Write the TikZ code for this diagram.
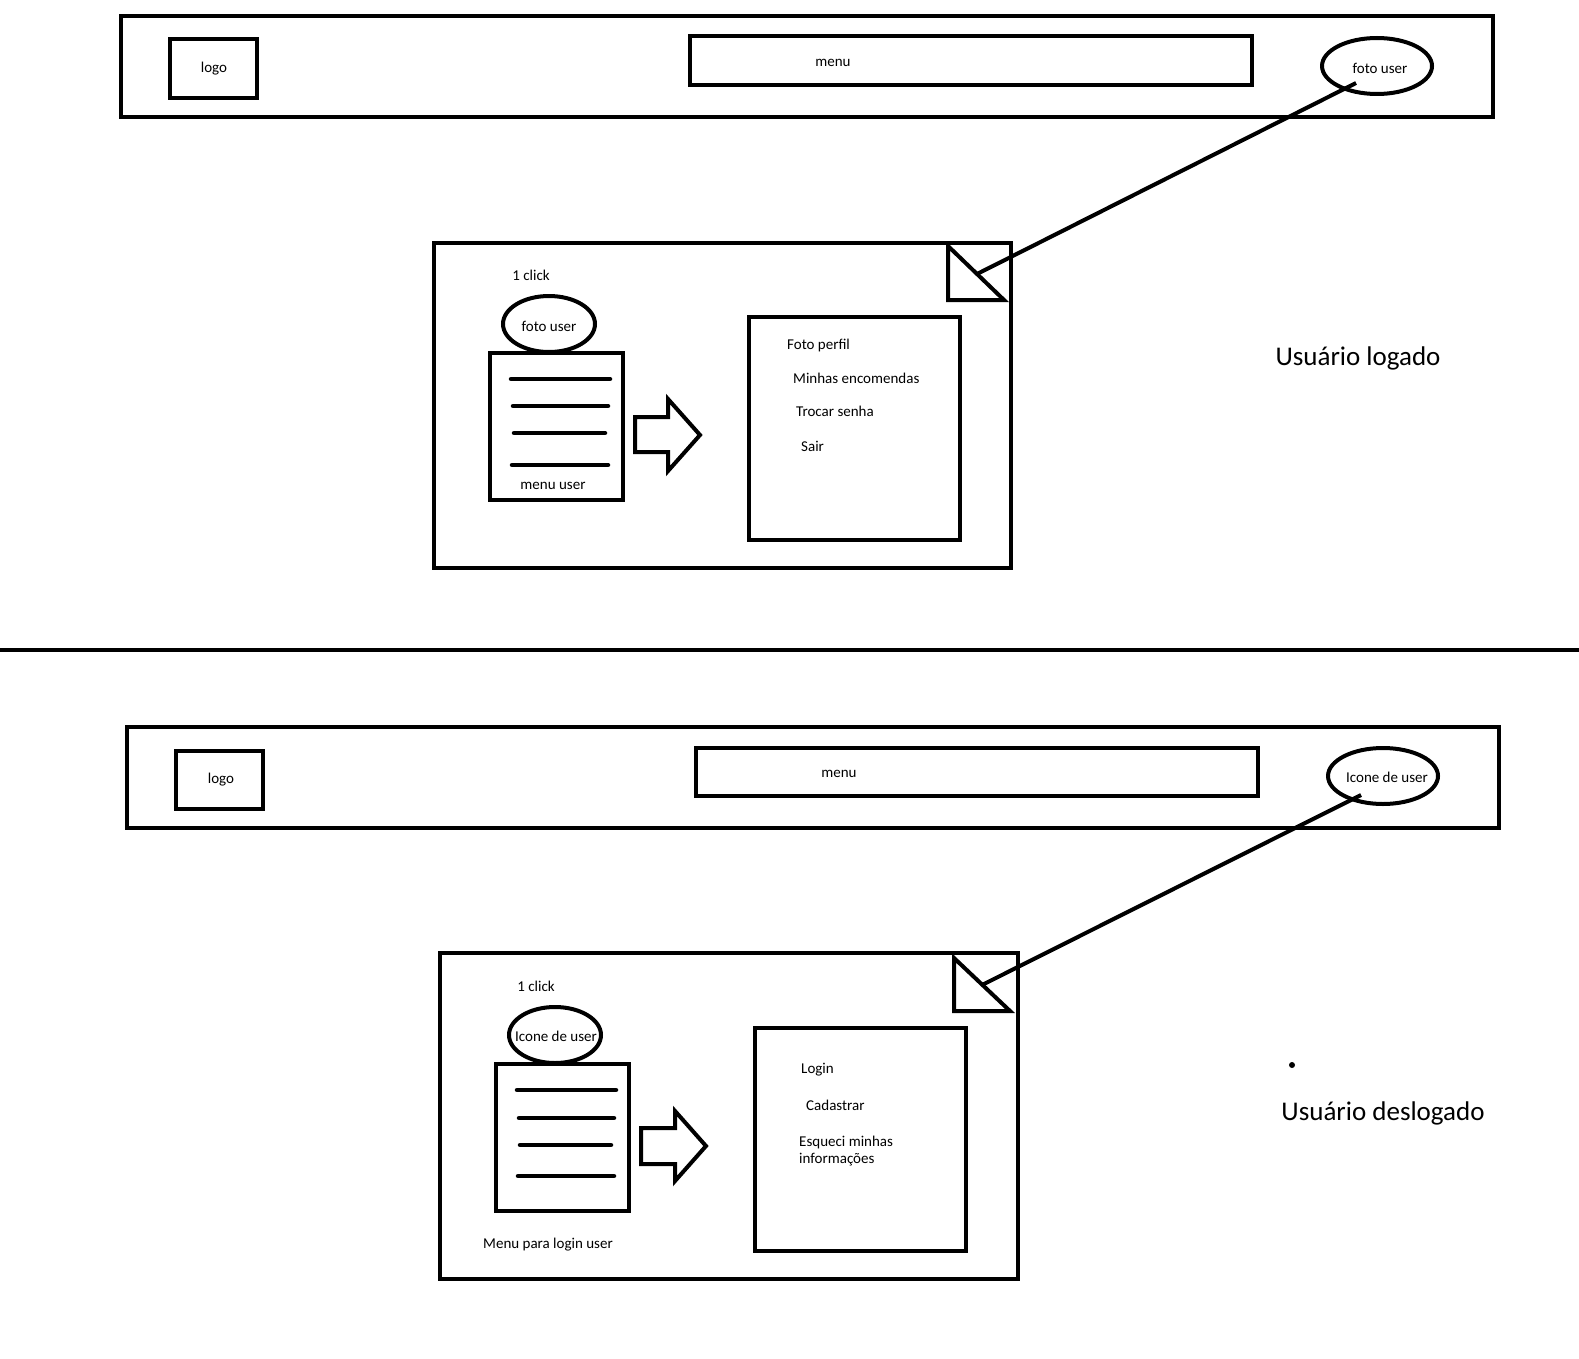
\documentclass[tikz,border=0pt]{standalone}
\usepackage{fontspec}
\setmainfont{Carlito}
\usetikzlibrary{shapes.geometric}
\begin{document}
\begin{tikzpicture}[x=1pt,y=-1pt,
  frame/.style={draw, line width=4pt, inner sep=0pt, rectangle},
  oval/.style={draw, line width=4pt, inner sep=0pt, ellipse, minimum width=#1},
  oval/.default=92pt,
  lbl/.style={inner sep=0pt, font=\fontsize{15}{17.5}\selectfont},
  big/.style={inner sep=0pt, font=\fontsize{27}{31}\selectfont},
  conn/.style={line width=4pt},
  bar/.style={line width=4.5pt, line cap=round},
  blockarrow/.style={line width=4pt, line join=miter},
  tri/.style={line width=4pt, line join=miter}
]
\useasboundingbox (0,0) rectangle (1579,1359);

% ================= TOP: Usuario logado =================
\node[frame, minimum width=1372pt, minimum height=101pt] (hdrA) at (807,66.5) {};
\node[frame, minimum width=87pt, minimum height=59pt] (logoA) at (213.5,68.5) {};
\node[lbl] (logoAt) at (214,69) {logo};
\node[frame, minimum width=562pt, minimum height=49pt] (menuA) at (971,60.5) {};
\node[lbl] (menuAt) at (833,63) {menu};
\node[oval=110pt, minimum height=56pt] (userA) at (1377,66) {};
\node[lbl] (userAt) at (1380,68) {foto user};

\node[frame, minimum width=577pt, minimum height=325pt] (popA) at (722.5,405.5) {};
\draw[tri] (948,246) -- (948,300) -- (1004,300) -- cycle;
\coordinate (triAm) at (977,274);
\coordinate (userAin) at (1356,83);
\draw[conn] (userAin) -- (triAm);

\node[lbl] (clickA) at (531,275) {1 click};
\node[oval, minimum height=56pt] (fotoA) at (549,324) {};
\node[lbl] (fotoAt) at (549,326) {foto user};
\node[frame, minimum width=133pt, minimum height=147pt] (muA) at (556.5,426.5) {};
\draw[bar] (511,379) -- (610,379);
\draw[bar] (513,406) -- (608,406);
\draw[bar] (514,433) -- (605,433);
\draw[bar] (512,465) -- (608,465);
\node[lbl] (muAt) at (553,486) {menu user};
\draw[blockarrow] (635,417) -- (668,417) -- (668,399) -- (700,435) -- (668,471) -- (668,452) -- (635,452) -- cycle;
\node[frame, minimum width=211pt, minimum height=223pt] (listA) at (854.5,428.5) {};
\node[lbl, anchor=west] (la1) at (787,345) {Foto perfil};
\node[lbl, anchor=west] (la2) at (793,378.5) {Minhas encomendas};
\node[lbl, anchor=west] (la3) at (796,411.5) {Trocar senha};
\node[lbl, anchor=west] (la4) at (801,446) {Sair};

\node[big] (titleA) at (1358,358) {Usuário logado};

% ================= separator =================
\coordinate (sepL) at (0,650);
\coordinate (sepR) at (1579,650);
\draw[line width=4pt] (sepL) -- (sepR);

% ================= BOTTOM: Usuario deslogado =================
\node[frame, minimum width=1372pt, minimum height=101pt] (hdrB) at (813,777.5) {};
\node[frame, minimum width=87pt, minimum height=58pt] (logoB) at (219.5,780) {};
\node[lbl] (logoBt) at (221,780) {logo};
\node[frame, minimum width=562pt, minimum height=48pt] (menuB) at (977,772) {};
\node[lbl] (menuBt) at (839,774) {menu};
\node[oval=110pt, minimum height=56pt] (userB) at (1383,776) {};
\node[lbl] (userBt) at (1387,777) {Icone de user};

\node[frame, minimum width=578pt, minimum height=326pt] (popB) at (729,1116) {};
\draw[tri] (954,958) -- (954,1011) -- (1010,1011) -- cycle;
\coordinate (triBm) at (982,985);
\coordinate (userBin) at (1361,795);
\draw[conn] (userBin) -- (triBm);

\node[lbl] (clickB) at (536,986) {1 click};
\node[oval, minimum height=56pt] (iconB) at (555,1035) {};
\node[lbl] (iconBt) at (556,1036) {Icone de user};
\node[frame, minimum width=133pt, minimum height=147pt] (muB) at (562.5,1137.5) {};
\draw[bar] (517,1090) -- (616,1090);
\draw[bar] (519,1118) -- (614,1118);
\draw[bar] (520,1145) -- (611,1145);
\draw[bar] (518,1176) -- (614,1176);
\node[lbl] (muBt) at (548,1245) {Menu para login user};
\draw[blockarrow] (641,1128) -- (675,1128) -- (675,1111) -- (706,1146) -- (675,1181) -- (675,1164) -- (641,1164) -- cycle;
\node[frame, minimum width=211pt, minimum height=223pt] (listB) at (860.5,1139.5) {};
\node[lbl, anchor=west] (lb1) at (801,1070) {Login};
\node[lbl, anchor=west] (lb2) at (806,1105) {Cadastrar};
\node[lbl, anchor=west, align=left] (lb3) at (799,1151) {Esqueci minhas\\informações};

\fill (1292,1065) circle (3pt);
\node[big] (titleB) at (1383,1113) {Usuário deslogado};
\end{tikzpicture}
\end{document}
